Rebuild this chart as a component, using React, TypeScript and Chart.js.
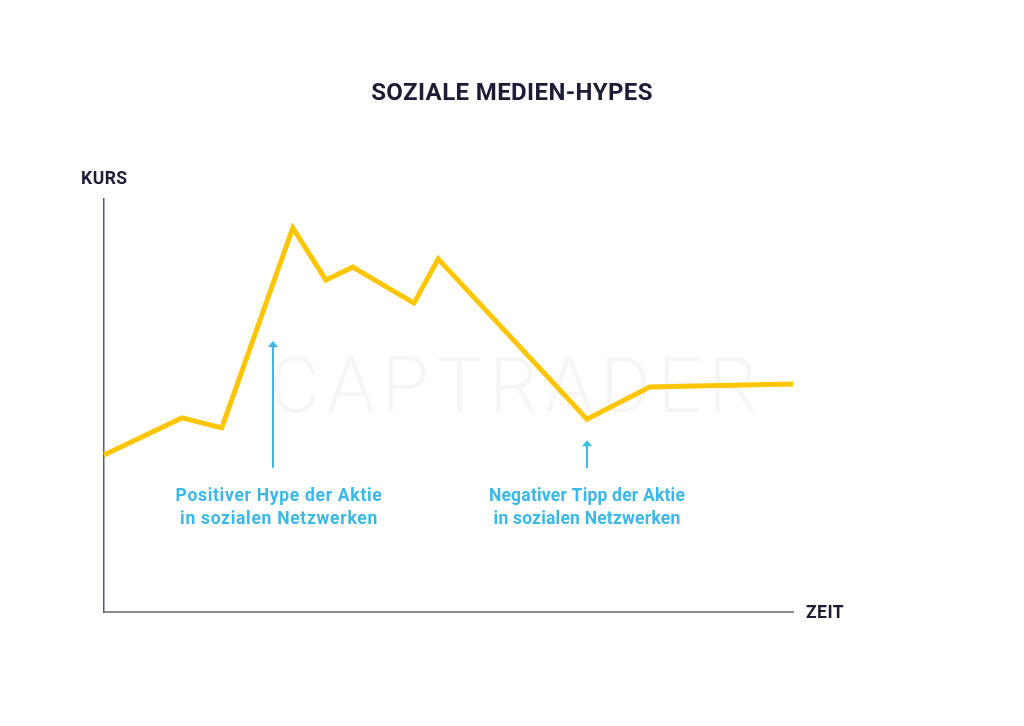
import React, { useEffect, useRef } from "react";
import { Chart, registerables } from "chart.js";

Chart.register(...registerables);

// Time (0..100) and price (0..100) readings of the curve
const zeit = [0, 11.3, 17.1, 27.4, 32.2, 36.1, 45.0, 48.5, 70.1, 79.2, 100];
const kurs = [38.0, 47.0, 44.6, 93.0, 80.4, 83.5, 74.8, 85.5, 46.7, 54.5, 55.2];

const titleText = "SOZIALE MEDIEN-HYPES";
const yAxisLabel = "KURS";
const xAxisLabel = "ZEIT";
const watermark = "CAPTRADER";

// annotations: arrow x, arrow bottom y, arrow top y, label lines
const annoX = [24.5, 70.1];
const annoBottom = [34.9, 34.9];
const annoTop = [65.6, 41.6];
const annoLines = [
  ["Positiver Hype der Aktie", "in sozialen Netzwerken"],
  ["Negativer Tipp der Aktie", "in sozialen Netzwerken"],
];
const annoShift = [6, 0];
const annoSpacing = ["0.7px", "0.2px"];

const DARK = "#1d1c36";
const BLUE = "#3ab8e6";
const FONT = "Roboto, 'Noto Sans', sans-serif";

const textPlugin = {
  id: "texts",
  beforeDatasetsDraw(chart: any) {
    const { ctx } = chart;
    ctx.save();
    ctx.fillStyle = "#f6f6f7";
    ctx.font = `300 77px ${FONT}`;
    (ctx as any).letterSpacing = "7px";
    ctx.textAlign = "center";
    ctx.textBaseline = "alphabetic";
    ctx.fillText(watermark, 517, 412);
    ctx.restore();
  },
  afterDraw(chart: any) {
    const { ctx, chartArea, scales } = chart;
    const xs = scales.x;
    const ys = scales.y;
    ctx.save();
    // title
    ctx.fillStyle = DARK;
    ctx.font = `bold 24px ${FONT}`;
    (ctx as any).letterSpacing = "0.4px";
    ctx.textAlign = "center";
    ctx.textBaseline = "middle";
    ctx.fillText(titleText, 512, 94);
    // axis labels
    ctx.font = `bold 17.5px ${FONT}`;
    (ctx as any).letterSpacing = "0.5px";
    ctx.textAlign = "left";
    ctx.fillText(yAxisLabel, chartArea.left - 23, chartArea.top - 19);
    ctx.fillText(xAxisLabel, chartArea.right + 13, chartArea.bottom + 2);
    // annotations
    ctx.strokeStyle = BLUE;
    ctx.fillStyle = BLUE;
    ctx.lineWidth = 2;
    annoX.forEach((xv, i) => {
      const px = Math.round(xs.getPixelForValue(xv));
      const yb = ys.getPixelForValue(annoBottom[i]);
      const yt = ys.getPixelForValue(annoTop[i]);
      ctx.beginPath();
      ctx.moveTo(px, yb);
      ctx.lineTo(px, yt + 4);
      ctx.stroke();
      ctx.beginPath();
      ctx.moveTo(px, yt);
      ctx.lineTo(px - 5, yt + 6);
      ctx.lineTo(px + 5, yt + 6);
      ctx.closePath();
      ctx.fill();
      ctx.font = `bold 17.5px ${FONT}`;
      (ctx as any).letterSpacing = annoSpacing[i];
      ctx.textAlign = "center";
      ctx.textBaseline = "middle";
      annoLines[i].forEach((line, j) => {
        ctx.fillText(line, px + annoShift[i], yb + 29 + j * 23);
      });
    });
    ctx.restore();
  },
};

export default function App() {
  const ref = useRef<HTMLCanvasElement>(null);
  useEffect(() => {
    if (!ref.current) return;
    const chart = new Chart(ref.current, {
      type: "line",
      data: {
        datasets: [
          {
            data: zeit.map((x, i) => ({ x, y: kurs[i] })),
            borderColor: "#ffc600",
            borderWidth: 5,
            pointRadius: 0,
            tension: 0,
            fill: false,
            clip: false as any,
            borderJoinStyle: "miter",
          },
        ],
      },
      options: {
        animation: false,
        responsive: false,
        devicePixelRatio: 1,
        layout: { padding: { left: 104, right: 231, top: 199, bottom: 114 } },
        plugins: { legend: { display: false }, tooltip: { enabled: false }, title: { display: false } },
        scales: {
          x: {
            type: "linear",
            min: 0,
            max: 100,
            grid: { display: false },
            ticks: { display: false },
            border: { display: true, color: "#8e8c99", width: 2 },
            afterFit: (s: any) => { s.height = 0; },
          },
          y: {
            min: 0,
            max: 100,
            grid: { display: false },
            ticks: { display: false },
            border: { display: true, color: "#5b5970", width: 1.5 },
            afterFit: (s: any) => { s.width = 0; },
          },
        },
      },
      plugins: [textPlugin],
    });
    return () => chart.destroy();
  }, []);
  return (
    <div style={{ position: "absolute", left: 0, top: 0, width: 1024, height: 726, background: "#fff" }}>
      <canvas ref={ref} width={1024} height={726} />
    </div>
  );
}
